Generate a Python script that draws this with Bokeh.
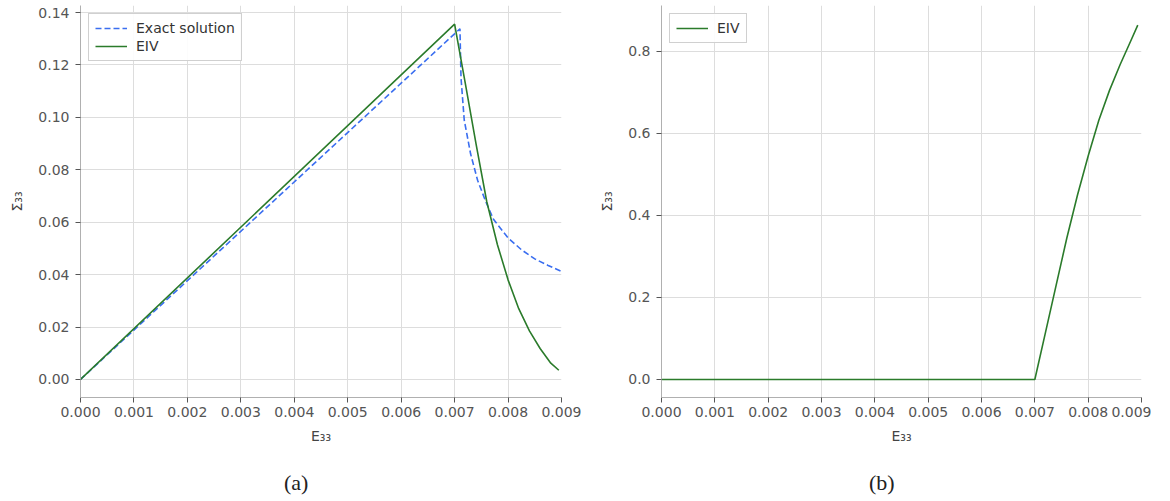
from bokeh.plotting import figure
from bokeh.layouts import row, column
from bokeh.models import Range1d, FixedTicker, NumeralTickFormatter, Legend, LegendItem, Div
from bokeh.embed import file_html
from bokeh.resources import INLINE

# ---- data (a) ----
exact_x = [0.0, 0.0071, 0.00712, 0.00718, 0.0073, 0.00743, 0.00758, 0.00773, 0.0080, 0.00825, 0.0085, 0.00875, 0.009]
exact_y = [0.0, 0.1338, 0.115, 0.099, 0.086, 0.076, 0.068, 0.061, 0.054, 0.0495, 0.046, 0.0435, 0.0412]
eiv_a_x = [0.0, 0.007, 0.0072, 0.0074, 0.0076, 0.0078, 0.008, 0.0082, 0.0084, 0.0086, 0.0088, 0.00895]
eiv_a_y = [0.0, 0.1356, 0.113, 0.090, 0.068, 0.0515, 0.038, 0.027, 0.0185, 0.0118, 0.0062, 0.0035]
# ---- data (b) ----
eiv_b_x = [0.0, 0.007, 0.0072, 0.0074, 0.0076, 0.0078, 0.008, 0.0082, 0.0084, 0.0086, 0.0088, 0.00893]
eiv_b_y = [0.0, 0.0, 0.115, 0.23, 0.345, 0.45, 0.545, 0.632, 0.705, 0.768, 0.826, 0.864]

x_ticks = [0.0, 0.001, 0.002, 0.003, 0.004, 0.005, 0.006, 0.007, 0.008, 0.009]
y_ticks_a = [0.0, 0.02, 0.04, 0.06, 0.08, 0.10, 0.12, 0.14]
y_ticks_b = [0.0, 0.2, 0.4, 0.6, 0.8]
captions = ["(a)", "(b)"]

GREEN = "#2b7b2b"
BLUE = "#3a6ef0"
FONT = "DejaVu Sans"


def style(p, yticks, yfmt, ylab_standoff):
    p.xaxis.ticker = FixedTicker(ticks=x_ticks)
    p.yaxis.ticker = FixedTicker(ticks=yticks)
    p.xaxis.formatter = NumeralTickFormatter(format="0.000")
    p.yaxis.formatter = NumeralTickFormatter(format=yfmt)
    for ax in (p.xaxis[0], p.yaxis[0]):
        ax.axis_line_color = "#b0b0b0"
        ax.major_tick_line_color = "#555555"
        ax.major_tick_out = 5
        ax.major_tick_in = 0
        ax.minor_tick_line_color = None
        ax.major_label_text_font = FONT
        ax.major_label_text_font_size = "14px"
        ax.major_label_text_color = "#555555"
        ax.axis_label_text_font = FONT
        ax.axis_label_text_font_size = "14px"
        ax.axis_label_text_font_style = "normal"
        ax.axis_label_text_color = "#444444"
    p.xaxis.major_label_standoff = 4
    p.yaxis.major_label_standoff = 6
    p.xaxis.axis_label_standoff = 8
    p.yaxis.axis_label_standoff = ylab_standoff
    p.xgrid.grid_line_color = "#dddddd"
    p.ygrid.grid_line_color = "#dddddd"
    p.outline_line_color = None
    p.background_fill_color = "white"
    p.border_fill_color = "white"


def make_legend(items):
    lg = Legend(items=items, location="top_left")
    lg.label_text_font = FONT
    lg.label_text_font_size = "14px"
    lg.label_text_color = "#333333"
    lg.border_line_color = "#d0d0d0"
    lg.border_line_alpha = 1.0
    lg.background_fill_alpha = 0.9
    lg.glyph_width = 32
    lg.glyph_height = 14
    lg.spacing = 2
    lg.padding = 6
    lg.margin = 8
    lg.label_standoff = 9
    return lg


def caption(text, pad_left, width):
    return Div(text=text, width=width, height=31,
               styles={"font-family": "Liberation Serif", "font-size": "22px",
                       "color": "#222222", "padding-left": f"{pad_left}px",
                       "line-height": "25px", "margin": "0"})


# ---------- left (a) ----------
pa = figure(frame_width=481, frame_height=392, output_backend="svg", toolbar_location=None,
            x_range=Range1d(0.0, 0.009), y_range=Range1d(-0.0069, 0.1427),
            min_border_left=80, min_border_right=20, min_border_top=5, min_border_bottom=73)
style(pa, y_ticks_a, "0.00", 10)
pa.xaxis.axis_label = "E₃₃"
pa.yaxis.axis_label = "Σ₃₃"
r1 = pa.line(exact_x, exact_y, line_color=BLUE, line_width=1.6, line_dash="6 3")
r2 = pa.line(eiv_a_x, eiv_a_y, line_color=GREEN, line_width=1.6)
pa.add_layout(make_legend([LegendItem(label="Exact solution", renderers=[r1]),
                           LegendItem(label="EIV", renderers=[r2])]))

# ---------- right (b) ----------
pb = figure(frame_width=480, frame_height=392, output_backend="svg", toolbar_location=None,
            x_range=Range1d(0.0, 0.009), y_range=Range1d(-0.044, 0.912),
            min_border_left=80, min_border_right=10, min_border_top=5, min_border_bottom=73)
style(pb, y_ticks_b, "0.0", 10)
pb.xaxis.axis_label = "E₃₃"
pb.yaxis.axis_label = "Σ₃₃"
r3 = pb.line(eiv_b_x, eiv_b_y, line_color=GREEN, line_width=1.6)
pb.add_layout(make_legend([LegendItem(label="EIV", renderers=[r3])]))

layout = row(column(pa, caption(captions[0], 284, 581), spacing=0),
             column(pb, caption(captions[1], 288, 570), spacing=0),
             spacing=0)
open("out.html", "w").write(file_html(layout, INLINE))
